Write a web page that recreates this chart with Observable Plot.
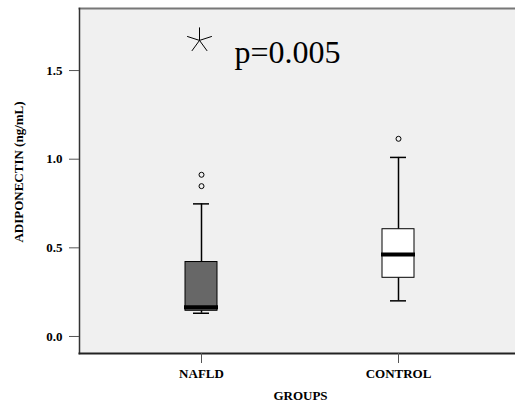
<!DOCTYPE html>
<html>
<head>
<meta charset="utf-8">
<script src="https://cdn.jsdelivr.net/npm/d3@7"></script>
<script src="https://cdn.jsdelivr.net/npm/@observablehq/plot@0.6"></script>
<style>
  html, body { margin: 0; padding: 0; background: #fff; }
</style>
</head>
<body>
<div id="chart"></div>
<script>
// ---- data ----
const groups   = ["NAFLD", "CONTROL"];
const q1       = [0.145, 0.331];
const median   = [0.165, 0.462];
const q3       = [0.420, 0.605];
const lowerW   = [0.131, 0.201];
const upperW   = [0.748, 1.010];
const fills    = ["#676767", "#ffffff"];
const outlierGroup = ["NAFLD", "NAFLD", "CONTROL"];
const outlierValue = [0.912, 0.848, 1.115];
const yTicks   = [0, 0.5, 1.0, 1.5];
const yDomain  = [-0.096, 1.85];
const starValue = 1.67;
const pText    = "p=0.005";
const pValueY  = 1.6;

const boxes = groups.map((g, i) => ({
  group: g, q1: q1[i], median: median[i], q3: q3[i],
  lo: lowerW[i], hi: upperW[i], fill: fills[i]
}));
const outliers = outlierGroup.map((g, i) => ({group: g, value: outlierValue[i]}));

const star5 = {
  draw(context, size) {
    const r = Math.sqrt(size / Math.PI);
    for (let k = 0; k < 5; ++k) {
      const a = (-90 + 72 * k) * Math.PI / 180;
      context.moveTo(0, 0);
      context.lineTo(r * Math.cos(a), r * Math.sin(a));
    }
  }
};

const font = "'Liberation Serif', 'Times New Roman', Times, serif";

const chart = Plot.plot({
  width: 515,
  height: 403,
  marginLeft: 79,
  marginRight: 0,
  marginTop: 8,
  marginBottom: 50,
  style: {fontFamily: font, fontSize: "13px", fontWeight: "bold", color: "#000", background: "#fff"},
  x: {type: "band", domain: groups, range: [184, 414], paddingInner: 0.838, paddingOuter: 0, label: null},
  y: {domain: yDomain, label: null},
  marks: [
    Plot.frame({fill: "#f0f0f0", stroke: null}),
    Plot.frame({anchor: "top", stroke: "#777", strokeWidth: 2}),
    Plot.frame({anchor: "left", stroke: "#333", strokeWidth: 1.5}),
    Plot.frame({anchor: "bottom", stroke: "#222", strokeWidth: 2}),
    Plot.axisY({ticks: yTicks, tickFormat: ".1f", tickSize: 10, tickPadding: 7, label: null, stroke: "#555", fontSize: 13, fontWeight: "bold", fill: "#000"}),
    Plot.axisX({tickSize: 10, tickPadding: 5, label: null, stroke: "#555", fontSize: 13, fontWeight: "bold", fill: "#000"}),
    Plot.text(["ADIPONECTIN (ng/mL)"], {frameAnchor: "left", rotate: -90, textAnchor: "middle", lineAnchor: "middle", dx: -61, dy: -9, fontWeight: "bold", fontSize: 13}),
    Plot.text(["GROUPS"], {frameAnchor: "bottom", textAnchor: "middle", lineAnchor: "middle", dx: 3, dy: 42, fontWeight: "bold", fontSize: 13}),
    // whiskers
    Plot.ruleX(boxes, {x: "group", y1: "q3", y2: "hi", stroke: "#000", strokeWidth: 1.5}),
    Plot.ruleX(boxes, {x: "group", y1: "lo", y2: "q1", stroke: "#000", strokeWidth: 1.5}),
    Plot.tickY(boxes, {x: "group", y: "hi", stroke: "#000", strokeWidth: 1.5, insetLeft: 8, insetRight: 8}),
    Plot.tickY(boxes, {x: "group", y: "lo", stroke: "#000", strokeWidth: 1.5, insetLeft: 8, insetRight: 8}),
    // boxes
    Plot.barY(boxes, {x: "group", y1: "q1", y2: "q3", fill: "fill", stroke: "#000", strokeWidth: 1}),
    Plot.tickY(boxes, {x: "group", y: "median", stroke: "#000", strokeWidth: 4, insetLeft: -1, insetRight: -1}),
    // outliers
    Plot.dot(outliers, {x: "group", y: "value", r: 2.5, stroke: "#000", fill: "none", strokeWidth: 1}),
    // significance star and p-value
    Plot.dot([starValue], {x: () => groups[0], y: d => d, symbol: star5, r: 13, stroke: "#000", fill: "none", strokeWidth: 1, dx: -2}),
    Plot.text([pText], {x: () => groups[0], y: () => pValueY, text: d => d, textAnchor: "start", dx: 33, fontSize: 32, fontWeight: "normal"})
  ]
});

document.getElementById("chart").appendChild(chart);
</script>
</body>
</html>
